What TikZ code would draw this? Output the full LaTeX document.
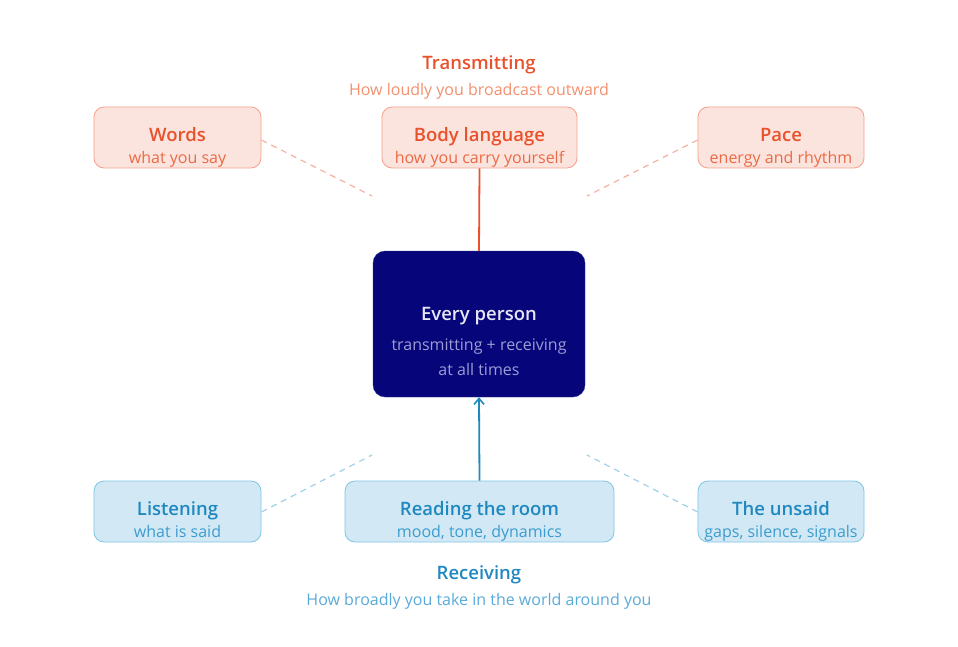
\documentclass[tikz,border=0pt]{standalone}
\usepackage{fontspec}
\setmainfont{Open Sans}
\newfontfamily\semib{Open Sans Semibold}
\usetikzlibrary{arrows.meta}
\definecolor{ofill}{HTML}{FCE4DE}
\definecolor{oline}{HTML}{F5A08A}
\definecolor{otitle}{HTML}{E8512B}
\definecolor{osub}{HTML}{EB6A45}
\definecolor{osub2}{HTML}{F2906E}
\definecolor{odash}{HTML}{F4B0A0}
\definecolor{bfill}{HTML}{D2E9F5}
\definecolor{bline}{HTML}{80C4E4}
\definecolor{btitle}{HTML}{2088C0}
\definecolor{bsub}{HTML}{3C9CCF}
\definecolor{bsub2}{HTML}{5AAAD8}
\definecolor{bdash}{HTML}{A0D0E8}
\definecolor{navyc}{HTML}{06067A}
\definecolor{ctitle}{HTML}{E6E6F5}
\definecolor{csub}{HTML}{9C9CD4}
\tikzset{
  obox/.style={draw=oline, fill=ofill, rounded corners=10pt, line width=0.8pt, inner sep=0pt, minimum height=61pt},
  bbox/.style={draw=bline, fill=bfill, rounded corners=10pt, line width=0.8pt, inner sep=0pt, minimum height=61pt},
  odashed/.style={draw=odash, dash pattern=on 6pt off 5pt, line width=1.2pt},
  bdashed/.style={draw=bdash, dash pattern=on 6pt off 5pt, line width=1.2pt},
  ttl/.style={anchor=base, inner sep=0pt, font=\semib\fontsize{18.5}{22}\selectfont},
  sbt/.style={anchor=base, inner sep=0pt, font=\fontsize{16}{19}\selectfont},
}
\begin{document}
\begin{tikzpicture}[x=1pt,y=-1pt]
\useasboundingbox (0,0) rectangle (958,647);
% top headings
\node[ttl, text=otitle] (thead) at (479,69.5) {Transmitting};
\node[sbt, text=osub2] (tsub) at (479,95.5) {How loudly you broadcast outward};
% top boxes
\node[obox, minimum width=167pt] (words) at (177.5,137.5) {};
\node[obox, minimum width=195pt] (body) at (479.5,137.5) {};
\node[obox, minimum width=166pt] (pace) at (781,137.5) {};
\node[ttl, text=otitle] (wordsT) at (177.5,142) {Words};
\node[sbt, text=osub] (wordsS) at (177.5,163.5) {what you say};
\node[ttl, text=otitle] (bodyT) at (479.5,142) {Body language};
\node[sbt, text=osub] (bodyS) at (479.5,163.5) {how you carry yourself};
\node[ttl, text=otitle] (paceT) at (781,142) {Pace};
\node[sbt, text=osub] (paceS) at (781,163.5) {energy and rhythm};
% center
\node[draw=navyc!80!white, fill=navyc, rounded corners=12pt, minimum width=212pt, minimum height=146pt, inner sep=0pt] (center) at (479,324) {};
\node[ttl, text=ctitle] (ctitle) at (479,320) {Every person};
\node[sbt, text=csub] (csub1) at (479,350) {transmitting + receiving};
\node[sbt, text=csub] (csub2) at (479,375) {at all times};
% bottom boxes
\node[bbox, minimum width=167pt] (listen) at (177.5,511.5) {};
\node[bbox, minimum width=269pt] (room) at (479.5,511.5) {};
\node[bbox, minimum width=166pt] (unsaid) at (781,511.5) {};
\node[ttl, text=btitle] (listenT) at (177.5,515.5) {Listening};
\node[sbt, text=bsub] (listenS) at (177.5,537) {what is said};
\node[ttl, text=btitle] (roomT) at (479.5,515.5) {Reading the room};
\node[sbt, text=bsub] (roomS) at (479.5,537) {mood, tone, dynamics};
\node[ttl, text=btitle] (unsaidT) at (781,515.5) {The unsaid};
\node[sbt, text=bsub] (unsaidS) at (781,537) {gaps, silence, signals};
% bottom headings
\node[ttl, text=btitle] (rhead) at (479,579) {Receiving};
\node[sbt, text=bsub2] (rsub) at (479,605) {How broadly you take in the world around you};
% free ends
\coordinate (wend) at (372,196);
\coordinate (pend) at (587,196);
\coordinate (lend) at (372,455);
\coordinate (uend) at (587,455);
% connectors
\draw[draw=otitle, line width=1.8pt] (body.south) -- (center.north);
\draw[draw=btitle, line width=1.8pt, -{Straight Barb[length=6pt,width=10pt,line width=1.6pt]}] (room.north) -- (center.south);
\draw[odashed] (words.east |- 0,140) -- (wend);
\draw[odashed] (pace.west |- 0,140) -- (pend);
\draw[bdashed] (listen.east |- 0,512) -- (lend);
\draw[bdashed] (unsaid.west |- 0,512) -- (uend);
\end{tikzpicture}
\end{document}
